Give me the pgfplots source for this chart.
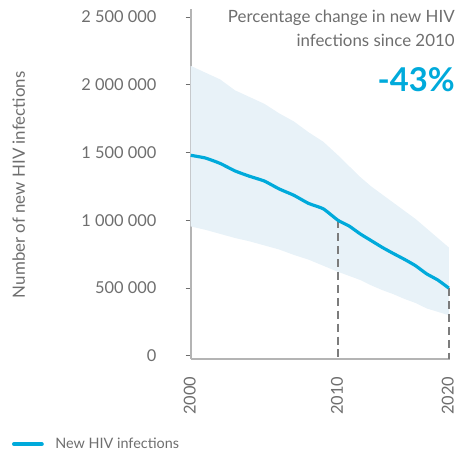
\documentclass[border=0pt]{standalone}
\usepackage{fontspec}
\setmainfont{Lato}
\usepackage{pgfplots}
\pgfplotsset{compat=1.18}
\definecolor{hivline}{HTML}{00AADB}
\definecolor{hivband}{HTML}{E8F2F8}
\definecolor{axgray}{HTML}{B4B4B4}
\definecolor{txtgray}{HTML}{6E6E6E}
\definecolor{dashgray}{HTML}{7C7C7C}
\begin{document}
\begin{tikzpicture}
\begin{axis}[
  scale only axis,
  width=261pt, height=352pt,
  x coord trafo/.code={\pgfmathparse{#1<=2010?(#1-2000)*14.9:149+(#1-2010)*11.2}},
  xmin=2000, xmax=2020.1,
  ymin=-20000, ymax=2560000,
  scaled y ticks=false,
  axis x line*=bottom, axis y line*=left,
  axis line style={axgray, line width=2pt, -},
  xtick={2000,2010,2020},
  xticklabels={2000,2010,2020},
  x tick style={draw=none},
  ytick={0,500000,1000000,1500000,2000000,2500000},
  yticklabels={0,500 000,1 000 000,1 500 000,2 000 000,2 500 000},
  y tick style={draw=txtgray, line width=0.8pt},
  tick align=outside, major tick length=5pt,
  yticklabel style={font=\fontsize{16.5}{18}\selectfont, text=txtgray, xshift=-26pt},
  xticklabel style={font=\fontsize{16.5}{18}\selectfont, text=txtgray, rotate=90, anchor=east, inner sep=0pt, xshift=-13pt, yshift=1pt},
  clip=false,
  legend style={at={(axis description cs:-0.69,-0.245)}, anchor=west, draw=none, fill=none,
    font=\fontsize{14.5}{16}\selectfont, text=txtgray, inner sep=0pt},
  legend cell align=left,
  legend image code/.code={\draw[hivline, line width=4pt, line cap=round] (0pt,0pt) -- (28pt,0pt); \path (38pt,0pt);},
]
% uncertainty band: upper bound then lower bound reversed
\addplot[fill=hivband, draw=none, forget plot] coordinates {
 (2000,2140000) (2001,2090000) (2002,2040000) (2003,1960000) (2004,1910000)
 (2005,1860000) (2006,1790000) (2007,1730000) (2008,1650000) (2009,1580000)
 (2010,1480000) (2011,1400000) (2012,1320000) (2013,1250000) (2014,1190000)
 (2015,1130000) (2016,1070000) (2017,1010000) (2018,940000) (2019,870000)
 (2020,800000)
 (2020,300000) (2019,325000) (2018,350000) (2017,390000) (2016,420000)
 (2015,455000) (2014,485000) (2013,520000) (2012,560000) (2011,590000)
 (2010,620000) (2009,665000) (2008,710000) (2007,745000) (2006,785000)
 (2005,815000) (2004,845000) (2003,870000) (2002,900000) (2001,930000)
 (2000,955000)
} -- cycle;
\addplot[dashgray, line width=2.6pt, dash pattern=on 8pt off 5pt, forget plot] coordinates {(2010,1000000) (2010,-20000)};
\addplot[dashgray, line width=2.6pt, dash pattern=on 8pt off 5pt, forget plot] coordinates {(2020,500000) (2020,-20000)};
\addplot[hivline, line width=3.2pt, smooth, tension=0.3] coordinates {
 (2000,1480000) (2001,1460000) (2002,1420000) (2003,1365000) (2004,1325000)
 (2005,1290000) (2006,1232000) (2007,1185000) (2008,1125000) (2009,1085000)
 (2010,1000000) (2011,958000) (2012,900000) (2013,850000) (2014,800000)
 (2015,755000) (2016,712000) (2017,665000) (2018,605000) (2019,560000)
 (2020,500000)
};
\addlegendentry{New HIV infections}
\node[anchor=base east, text=txtgray, font=\fontsize{17}{20}\selectfont, inner sep=0pt] at (axis description cs:1.019,0.960) {Percentage change in new HIV};
\node[anchor=base east, text=txtgray, font=\fontsize{17}{20}\selectfont, inner sep=0pt] at (axis description cs:1.019,0.893) {infections since 2010};
\node[anchor=base east, text=hivline, font=\fontsize{33}{36}\selectfont\bfseries, inner sep=0pt] at (axis description cs:1.019,0.765) {-43\%};
\node[rotate=90, anchor=base, text=txtgray, font=\fontsize{17}{20}\selectfont, inner sep=0pt] at (axis description cs:-0.640,0.497) {Number of new HIV infections};
\coordinate (bbsw) at (axis description cs:-0.7356,-0.2699);
\coordinate (bbne) at (axis description cs:1.035,1.0256);
\end{axis}
\pgfresetboundingbox
\path (bbsw) rectangle (bbne);
\end{tikzpicture}
\end{document}
